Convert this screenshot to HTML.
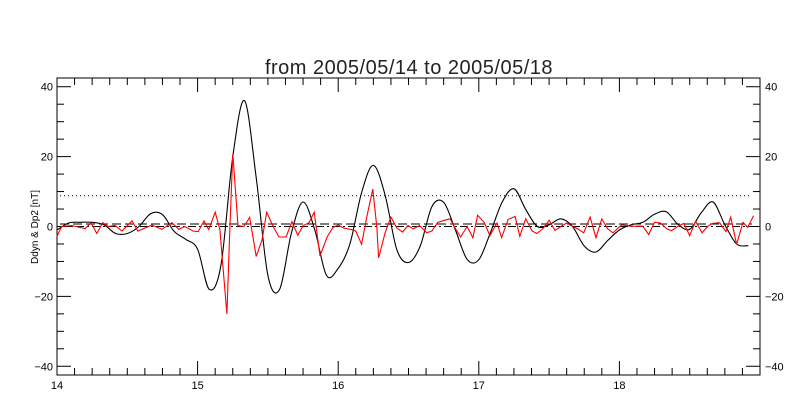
<!DOCTYPE html>
<html><head><meta charset="utf-8"><style>
html,body{margin:0;padding:0;background:#fff;}
svg{display:block;font-family:"Liberation Sans",sans-serif;}
</style></head><body>
<svg id="chart" width="800" height="400" viewBox="0 0 800 400" xmlns="http://www.w3.org/2000/svg">
<rect x="0" y="0" width="800" height="400" fill="#fff"/>
<text x="409" y="74" font-size="20" text-anchor="middle" fill="#222" style="letter-spacing:0.5px">from 2005/05/14 to 2005/05/18</text>
<text transform="translate(38,227) rotate(-90)" font-size="10" text-anchor="middle" fill="#000">Ddyn &amp; Dp2 [nT]</text>
<g id="axes"></g>
<g id="refs"></g>
<g id="series"></g>
</svg>
<script>
const xTickLabels = ["14","15","16","17","18"];
const yTickValues = [-40,-20,0,20,40];
const refLevels = [8.8, 0.7, 0];
// black series: 2-hour sampling starting 14.00
const blackValues = [-1,1,1.2,1.2,0.5,-2,-2,0,3.7,3.4,-1.4,-3.7,-6.5,-18,-11,20,36,14,-14,-18,-2,7,-1,-14,-12,-5,9.7,17.5,9,-6.6,-10.3,-5.6,5.7,6.9,-1,-9.4,-9.5,-1.7,7,10.8,4.9,0,0.5,2.2,0,-5.6,-7.3,-4,-1,0.5,1.2,3.5,4.2,0.6,-0.8,4,7,0.5,-5,-5.5];
const blackStepHours = 2;
// red series: hours since day 14.00 and values
const redHours = [0,0.8,2.5,4.8,5.8,6.8,7.8,8.7,9.9,11.1,12.8,13.8,16.2,17.9,19.6,20.8,21.8,23.2,24.1,25.1,25.9,27,27.8,28.3,29,29.5,30,30.9,31.9,32.9,34,35,35.8,36.9,37.9,39.1,40.1,41.1,42,43,43.9,44.9,46.1,47.1,48,49,50.3,51,52,52.9,53.9,54.6,54.9,56,57,58,59,59.9,60.8,61.9,63.1,64,65,66.2,67.1,68.1,68.9,70,71,71.8,72.9,73.9,75.1,75.9,77,78.2,79,80,81.1,81.9,82.9,84,85,86,87,88.1,88.9,89.9,91,92,93,94,94.9,96.4,97.8,99,100,101,102,103,104.1,104.9,106,107,108,109,110.1,111.1,111.9,113.1,114.2,115,116,117.1,117.9,118.9];
const redValues = [-2.8,0,0.3,-0.6,1.1,-2,1.1,0,0.3,-1.3,1.6,-1.3,0.4,-0.8,1.1,-0.8,0,-1.3,-1.5,1.6,-0.9,4.1,-0.9,-11,-25,-1,20.9,0.3,0,2.6,-8.6,-3.9,4.1,0,-3,-3,1.4,-2.5,0.2,1.1,4.1,-8.4,-3,-0.3,0.4,-0.5,-0.9,-1.3,-5.1,2.9,10.7,-0.4,-9,-1.8,2.7,-0.4,-1.6,0.3,-0.7,0.3,-1.8,-1.3,1.2,1.8,2.2,-0.9,-3,0,-3.2,3.2,1.2,-2.6,1,-3.2,2,2.9,-2.8,2.2,-1.3,-2,-0.7,1.8,-1.1,0,1,-0.1,-0.7,-1.8,2.7,-3.2,2.2,-0.7,-1.8,0.5,0.1,0.1,0.1,-2.3,1.2,1,-0.7,-1.2,0.1,0.9,-2.6,1.5,-1.8,0.1,0.9,1.1,-1.5,2.7,-5.1,1.2,-0.2,3.1];

const X0=57,X1=760,Y0=78,Y1=375;
const xDomain=[14,19], yDomain=[-42.5,42.5];
function xs(d){return X0+(d-xDomain[0])/(xDomain[1]-xDomain[0])*(X1-X0);}
function ys(v){return Y1-(v-yDomain[0])/(yDomain[1]-yDomain[0])*(Y1-Y0);}
const NS="http://www.w3.org/2000/svg";
function mk(tag,attrs,parent){const e=document.createElementNS(NS,tag);for(const k in attrs)e.setAttribute(k,attrs[k]);parent.appendChild(e);return e;}
const axes=document.getElementById('axes');
const box=mk('rect',{x:X0,y:Y0,width:X1-X0,height:Y1-Y0,fill:'none',stroke:'#000','stroke-width':1},axes);


for(let d=14;d<=19.0001;d+=0.125){
  const major=Math.abs(d-Math.round(d))<1e-6;
  const len=major?14:7;const x=xs(d);
  const t1=mk('line',{x1:x,x2:x,y1:Y1,y2:Y1-len,stroke:'#000'},axes);
  
  
  const t2=mk('line',{x1:x,x2:x,y1:Y0,y2:Y0+len,stroke:'#000'},axes);
  
  
}
xTickLabels.forEach(s=>{
  const t=mk('text',{x:xs(parseFloat(s)),y:389,'font-size':11,'text-anchor':'middle'},axes);
  t.textContent=s;
  
  
});
for(let v=-40;v<=40;v+=5){
  const major=v%20===0;const len=major?14:7;const y=ys(v);
  const a=mk('line',{x1:X0,x2:X0+len,y1:y,y2:y,stroke:'#000'},axes);
  
  
  const b=mk('line',{x1:X1,x2:X1-len,y1:y,y2:y,stroke:'#000'},axes);
  
  
}
yTickValues.forEach(v=>{
  const s=v<0?'\u2212'+Math.abs(v):String(v);
  const l=mk('text',{x:53,y:ys(v)+4,'font-size':11,'text-anchor':'end'},axes);
  l.textContent=s;
  
  
  const r=mk('text',{x:765,y:ys(v)+4,'font-size':11,'text-anchor':'start'},axes);
  r.textContent=s;
  
  
});
const refs=document.getElementById('refs');
const dashes=['1,3','9,4','8,3,2,3'];
const refNames=['dotted-threshold-line','dashed-mean-line','dash-dot-zero-line'];
refLevels.forEach((v,i)=>{
  const l=mk('line',{x1:X0+3,x2:X1-8,y1:ys(v),y2:ys(v),stroke:'#000','stroke-dasharray':dashes[i],'stroke-width':1},refs);
  
  
});
const series=document.getElementById('series');
// smooth curve (Catmull-Rom) through black points
const bpts=blackValues.map((v,i)=>[xs(14+i*blackStepHours/24),ys(v)]);
let d='M'+bpts[0][0].toFixed(1)+','+bpts[0][1].toFixed(1);
for(let i=0;i<bpts.length-1;i++){
  const p0=bpts[Math.max(0,i-1)],p1=bpts[i],p2=bpts[i+1],p3=bpts[Math.min(bpts.length-1,i+2)];
  const c1=[p1[0]+(p2[0]-p0[0])/6,p1[1]+(p2[1]-p0[1])/6];
  const c2=[p2[0]-(p3[0]-p1[0])/6,p2[1]-(p3[1]-p1[1])/6];
  d+=' C'+c1[0].toFixed(1)+','+c1[1].toFixed(1)+' '+c2[0].toFixed(1)+','+c2[1].toFixed(1)+' '+p2[0].toFixed(1)+','+p2[1].toFixed(1);
}
const bl=mk('path',{d:d,fill:'none',stroke:'#000','stroke-width':1.1},series);


const rp=redValues.map((v,i)=>xs(14+redHours[i]/24).toFixed(1)+','+ys(v).toFixed(1)).join(' ');
const rl=mk('polyline',{points:rp,fill:'none',stroke:'#f00','stroke-width':1.1},series);


</script>
</body></html>
